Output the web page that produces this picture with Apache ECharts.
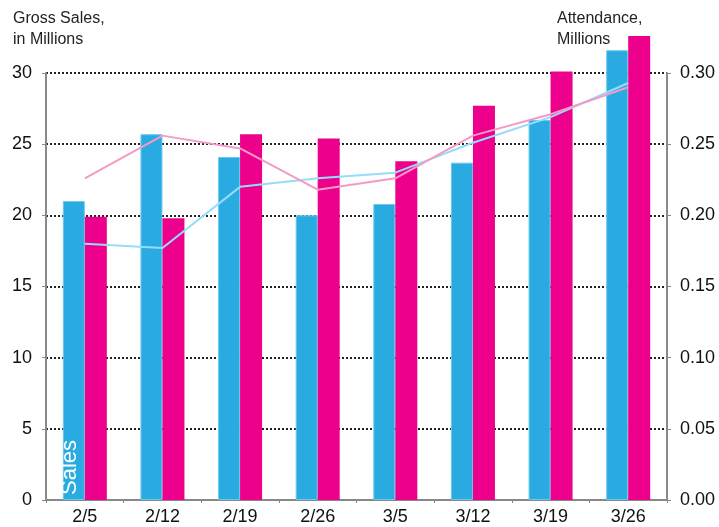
<!DOCTYPE html>
<html>
<head>
<meta charset="utf-8">
<script src="https://cdn.jsdelivr.net/npm/echarts@6/dist/echarts.min.js"></script>
<style>
  html, body { margin: 0; padding: 0; background: #fff; }
  #chart { width: 719px; height: 527px; }
</style>
</head>
<body>
<div id="chart"></div>
<script>
// 数据
var weeks = ['2/5', '2/12', '2/19', '2/26', '3/5', '3/12', '3/19', '3/26'];
var salesBlue = [21.0, 25.7, 24.1, 20.0, 20.8, 23.7, 26.7, 31.6];
var salesPink = [19.9, 19.8, 25.7, 25.4, 23.8, 27.7, 30.1, 32.6];
var attendBlue = [0.180, 0.177, 0.220, 0.226, 0.230, 0.251, 0.269, 0.293];
var attendPink = [0.226, 0.256, 0.247, 0.218, 0.226, 0.256, 0.271, 0.290];

var chart = echarts.init(document.getElementById('chart'));
var font = 'Liberation Sans, Arial, sans-serif';

// 第一根蓝柱上写 "Sales"
var blueData = salesBlue.map(function (v, i) {
    if (i === 0) {
        return {
            value: v,
            label: {
                show: true, position: 'insideBottom', rotate: 90,
                formatter: 'Sales', color: '#fff', fontSize: 22,
                fontFamily: font, align: 'left', verticalAlign: 'middle', offset: [0, -4]
            }
        };
    }
    return v;
});

var option = {
    animation: false,
    textStyle: { fontFamily: font },
    title: [{
        text: 'Gross Sales,\nin Millions', left: 8, top: 3,
        textStyle: { fontSize: 16, fontWeight: 'normal', color: '#222', lineHeight: 21, fontFamily: font }
    }, {
        text: 'Attendance,\nMillions', left: 552, top: 3,
        textStyle: { fontSize: 16, fontWeight: 'normal', color: '#222', lineHeight: 21, fontFamily: font }
    }],
    grid: { left: 46, right: 52, top: 73, bottom: 27 },
    xAxis: {
        type: 'category',
        data: weeks,
        axisLine: { lineStyle: { color: '#888', width: 2 } },
        axisTick: { show: true, length: 3, lineStyle: { color: '#888', width: 1 } },
        axisLabel: { fontSize: 18, color: '#111', margin: 8 }
    },
    yAxis: [{
        type: 'value', min: 0, max: 30, interval: 5,
        axisLine: { show: true, lineStyle: { color: '#888', width: 2 } },
        axisTick: { show: true, length: 4, lineStyle: { color: '#888' } },
        axisLabel: { fontSize: 18, color: '#111', margin: 14 },
        splitLine: { show: true, lineStyle: { type: 'dotted', color: '#222', width: 2 } }
    }, {
        type: 'value', min: 0, max: 0.3, interval: 0.05,
        axisLine: { show: true, lineStyle: { color: '#888', width: 2 } },
        axisTick: { show: true, length: 4, lineStyle: { color: '#888' } },
        axisLabel: {
            fontSize: 18, color: '#111', margin: 13,
            formatter: function (v) { return v.toFixed(2); }
        },
        splitLine: { show: false }
    }],
    series: [{
        name: 'Sales A',
        type: 'bar',
        data: blueData,
        barWidth: 22,
        barGap: '0%',
        clip: false,
        itemStyle: { color: '#29abe2', borderColor: '#6cc8ee', borderWidth: 1 }
    }, {
        name: 'Sales B',
        type: 'bar',
        data: salesPink,
        barWidth: 22,
        barGap: '0%',
        clip: false,
        itemStyle: { color: '#ec008c' }
    }, {
        name: 'Attendance A',
        type: 'line',
        yAxisIndex: 1,
        data: attendBlue,
        symbol: 'none',
        z: 5,
        lineStyle: { color: '#96dcf8', width: 2 }
    }, {
        name: 'Attendance B',
        type: 'line',
        yAxisIndex: 1,
        data: attendPink,
        symbol: 'none',
        z: 5,
        lineStyle: { color: '#f49ac6', width: 2 }
    }]
};
chart.setOption(option);
</script>
</body>
</html>
